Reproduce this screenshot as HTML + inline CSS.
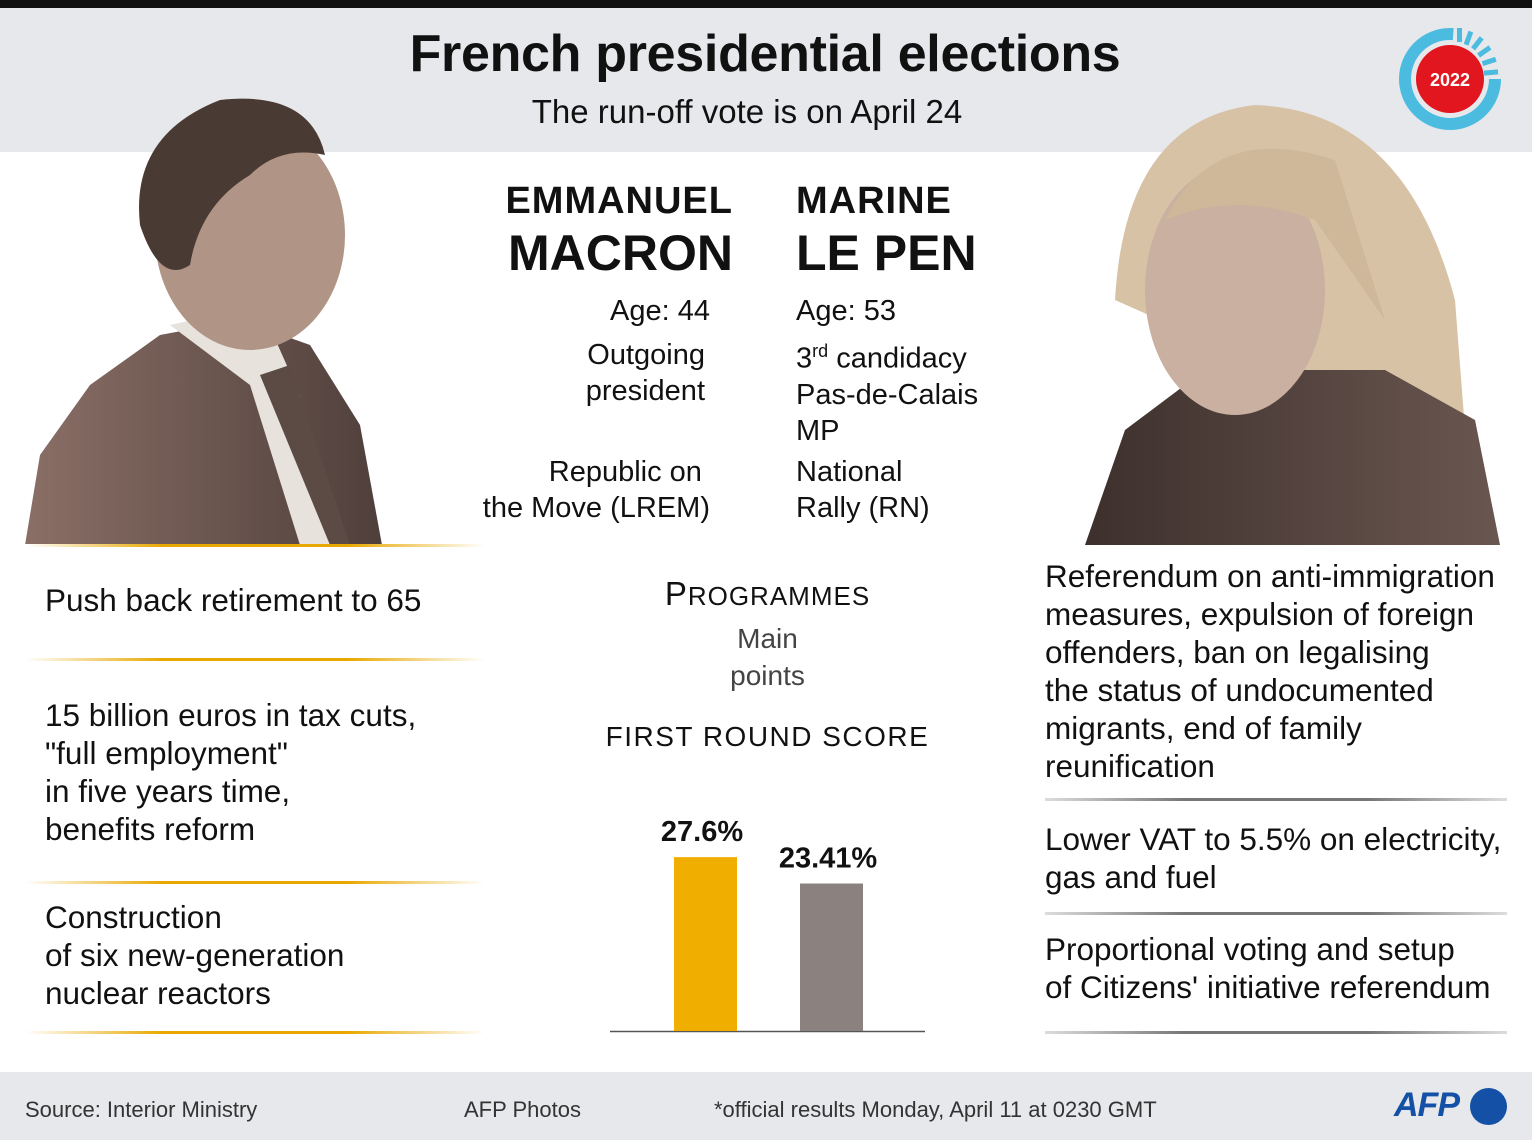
<!DOCTYPE html>
<html><head><meta charset="utf-8"><style>
*{margin:0;padding:0;box-sizing:border-box}
body{width:1532px;height:1140px;position:relative;background:#fff;font-family:"Liberation Sans",sans-serif;color:#111;overflow:hidden}
.a{position:absolute;white-space:nowrap}
.t{font-size:29px;line-height:38px}
.p{font-size:31.5px;line-height:38px}
.sep{position:absolute;height:3px}
</style></head><body>
<div class="a" style="left:0;top:0;width:1532px;height:8px;background:#111"></div>
<div class="a" style="left:0;top:8px;width:1532px;height:144px;background:#e6e8eb"></div>
<div class="a" style="left:0;top:24px;width:1532px;text-align:center;font-size:52px;font-weight:bold;letter-spacing:-0.3px;padding-right:2px">French presidential elections</div>
<div class="a" style="left:0;top:93px;width:1494px;text-align:center;font-size:33px">The run-off vote is on April 24</div>
<svg class="a" style="left:1398px;top:26px" width="110" height="106">
<circle cx="52" cy="53" r="45" fill="none" stroke="#4bbbdf" stroke-width="12" stroke-dasharray="215 300" />
<g fill="#4bbbdf"><rect x="59" y="2" width="5" height="14"/><rect x="68" y="5" width="5" height="14" transform="rotate(20 70 12)"/><rect x="77" y="10" width="5" height="14" transform="rotate(38 79 17)"/><rect x="84" y="18" width="5" height="14" transform="rotate(55 86 25)"/><rect x="89" y="28" width="5" height="14" transform="rotate(72 91 35)"/><rect x="91" y="39" width="5" height="14" transform="rotate(85 93 46)"/></g>
<circle cx="52" cy="53" r="34" fill="#e2161f"/>
<text x="52" y="60" text-anchor="middle" fill="#fff" font-family="Liberation Sans" font-weight="bold" font-size="18">2022</text></svg>

<svg class="a" style="left:20px;top:95px" width="470" height="452">
<defs><linearGradient id="mg" x1="0" x2="1"><stop offset="0" stop-color="#8a6f66"/><stop offset="1" stop-color="#4f3f3b"/></linearGradient></defs>
<path d="M5 450 L20 360 L70 290 L140 240 L220 225 L290 250 L340 330 L362 450 Z" fill="url(#mg)"/>
<path d="M150 230 L240 210 L280 300 L320 450 L280 450 L230 290 Z" fill="#e8e2dc"/>
<path d="M240 280 L270 270 L330 450 L310 450 Z" fill="#5c4a44"/>
<ellipse cx="230" cy="140" rx="95" ry="115" fill="#b09486"/>
<path d="M120 130 Q110 40 200 5 Q290 -5 305 60 Q260 50 230 80 Q180 110 170 170 Q140 190 120 130Z" fill="#4a3a34"/>
</svg>
<svg class="a" style="left:1085px;top:100px" width="420" height="447">
<defs><linearGradient id="lg" x1="0" x2="1"><stop offset="0" stop-color="#3d302c"/><stop offset="1" stop-color="#6a5650"/></linearGradient></defs>
<path d="M30 200 Q40 20 170 5 Q320 10 370 200 L380 330 L300 320 Z" fill="#d8c2a6"/>
<path d="M0 445 L40 330 L120 270 L300 270 L390 320 L415 445 Z" fill="url(#lg)"/>
<ellipse cx="150" cy="190" rx="90" ry="125" fill="#c9b0a0"/>
<path d="M80 120 Q130 20 250 60 L300 220 L230 120 Q150 90 80 120Z" fill="#cfb89a"/>
</svg>

<div class="a" style="left:505px;top:180px;width:228px;text-align:right;font-size:38px;font-weight:bold;letter-spacing:1px">EMMANUEL</div>
<div class="a" style="left:505px;top:224px;width:228px;text-align:right;font-size:50px;font-weight:bold">MACRON</div>
<div class="a" style="left:796px;top:180px;font-size:38px;font-weight:bold;letter-spacing:1px">MARINE</div>
<div class="a" style="left:796px;top:224px;font-size:50px;font-weight:bold">LE PEN</div>
<div class="a t" style="left:500px;top:292px;width:210px;text-align:right">Age: 44</div>
<div class="a t" style="left:500px;top:337px;width:205px;text-align:right;line-height:36px">Outgoing<br>&nbsp;president</div>
<div class="a t" style="left:460px;top:454px;width:250px;text-align:right;line-height:36px">Republic on&nbsp;<br>the Move (LREM)</div>
<div class="a t" style="left:796px;top:292px">Age: 53</div>
<div class="a t" style="left:796px;top:332px">3<sup style="font-size:18px">rd</sup> candidacy</div>
<div class="a t" style="left:796px;top:377px;line-height:36px">Pas-de-Calais<br>MP</div>
<div class="a t" style="left:796px;top:454px;line-height:36px">National<br>Rally (RN)</div>

<div class="a" style="left:610px;top:575px;width:315px;text-align:center;font-size:33px;letter-spacing:1px">P<span style="font-size:26px">ROGRAMMES</span></div>
<div class="a" style="left:610px;top:620px;width:315px;text-align:center;font-size:28px;line-height:37px;color:#444">Main<br>points</div>
<div class="a" style="left:600px;top:721px;width:335px;text-align:center;font-size:28px;letter-spacing:1.5px">FIRST ROUND SCORE</div>

<div class="sep" style="left:25px;top:544px;width:460px;background:linear-gradient(90deg,#fff,#e8a800 30%,#e8a800 70%,#fff)"></div>
<div class="sep" style="left:25px;top:658px;width:460px;background:linear-gradient(90deg,#fff,#e8a800 30%,#e8a800 70%,#fff)"></div>
<div class="sep" style="left:25px;top:881px;width:460px;background:linear-gradient(90deg,#fff,#e8a800 30%,#e8a800 70%,#fff)"></div>
<div class="sep" style="left:25px;top:1031px;width:460px;background:linear-gradient(90deg,#fff,#e8a800 30%,#e8a800 70%,#fff)"></div>
<div class="sep" style="left:1045px;top:798px;width:462px;background:linear-gradient(90deg,#ddd,#777 30%,#777 70%,#ddd)"></div>
<div class="sep" style="left:1045px;top:912px;width:462px;background:linear-gradient(90deg,#ddd,#777 30%,#777 70%,#ddd)"></div>
<div class="sep" style="left:1045px;top:1031px;width:462px;background:linear-gradient(90deg,#ddd,#777 30%,#777 70%,#ddd)"></div>

<div class="a p" style="left:45px;top:581px">Push back retirement to 65</div>
<div class="a p" style="left:45px;top:696px">15 billion euros in tax cuts,<br>"full employment"<br>in five years time,<br>benefits reform</div>
<div class="a p" style="left:45px;top:898px">Construction<br>of six new-generation<br>nuclear reactors</div>
<div class="a p" style="left:1045px;top:557px">Referendum on anti-immigration<br>measures, expulsion of foreign<br>offenders, ban on legalising<br>the status of undocumented<br>migrants, end of family<br>reunification</div>
<div class="a p" style="left:1045px;top:820px">Lower VAT to 5.5% on electricity,<br>gas and fuel</div>
<div class="a p" style="left:1045px;top:930px">Proportional voting and setup<br>of Citizens' initiative referendum</div>

<svg class="a" id="chart" style="left:0;top:0" width="1532" height="1140"></svg>

<div class="a" style="left:0;top:1072px;width:1532px;height:68px;background:#e6e8eb"></div>
<div class="a" style="left:25px;top:1097px;font-size:22px;color:#333">Source: Interior Ministry</div>
<div class="a" style="left:464px;top:1097px;font-size:22px;color:#333">AFP Photos</div>
<div class="a" style="left:714px;top:1097px;font-size:22px;color:#333">*official results Monday, April 11 at 0230 GMT</div>
<div class="a" style="left:1394px;top:1086px;font-size:34px;font-weight:bold;font-style:italic;color:#1350a6;letter-spacing:-1px">AFP</div>
<div class="a" style="left:1470px;top:1088px;width:37px;height:37px;border-radius:50%;background:#1350a6"></div>

<script>
const candidates = ["Macron", "Le Pen"];
const scores = [27.6, 23.41];
const labels = ["27.6%", "23.41%"];
const colors = ["#f0ae00", "#8b8280"];
const svg = document.getElementById('chart');
const NS = 'http://www.w3.org/2000/svg';
const baseY = 1031, pxPer = 6.3;
const xPos = i => 674 + i * 126;
const yPos = v => baseY - v * pxPer;
const base = document.createElementNS(NS, 'line');


base.setAttribute('x1', 610); base.setAttribute('x2', 925);
base.setAttribute('y1', baseY + 0.5); base.setAttribute('y2', baseY + 0.5);
base.setAttribute('stroke', '#555'); base.setAttribute('stroke-width', 1.5);
svg.appendChild(base);
scores.forEach((v, i) => {
  const r = document.createElementNS(NS, 'rect');
  
  
  r.setAttribute('x', xPos(i)); r.setAttribute('width', 63);
  r.setAttribute('y', yPos(v)); r.setAttribute('height', baseY - yPos(v));
  r.setAttribute('fill', colors[i]);
  svg.appendChild(r);
  const t = document.createElementNS(NS, 'text');
  
  
  t.setAttribute('x', xPos(i) + 31 - 3); t.setAttribute('y', yPos(v) - 16);
  t.setAttribute('text-anchor', 'middle');
  t.setAttribute('font-family', 'Liberation Sans'); t.setAttribute('font-weight', 'bold');
  t.setAttribute('font-size', '29'); t.setAttribute('fill', '#111');
  t.textContent = labels[i];
  svg.appendChild(t);
});
</script>
</body></html>
